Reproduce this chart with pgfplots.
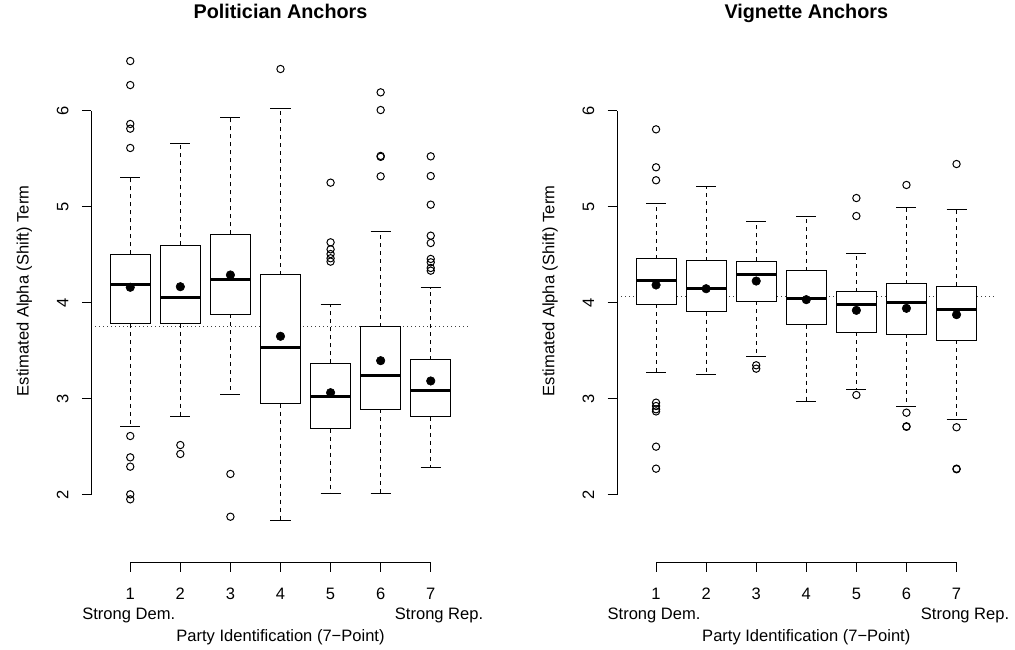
\documentclass[border=0pt]{standalone}
\usepackage{pgfplots}
\pgfplotsset{compat=1.18}
\usepgfplotslibrary{statistics}
\usepackage{fontspec}
\setmainfont{Liberation Sans}
\newcommand{\rfont}{\fontsize{12.4}{14}\selectfont}
\pgfplotsset{
  rpanel/.style={
    scale only axis, width=283.95pt, height=399.225pt,
    anchor=south west,
    xmin=0.22, xmax=7.78, ymin=1.2995, ymax=6.840,
    axis x line*=bottom, axis y line*=left, axis line style={draw=none},
    tick align=outside, major tick length=7.05pt,
    tick style={black, line width=0.75pt},
    xtick={1,2,3,4,5,6,7}, ytick={2,3,4,5,6},
    xticklabels={1,2,3,4,5,6,7}, yticklabels={2,3,4,5,6},
    /pgf/number format/assume math mode=true,
    clip=false,
    tick label style={font=\rfont},
    xticklabel style={anchor=base, yshift=-20.7pt},
    yticklabel style={xshift=-10.1pt, rotate=90, anchor=base},
    label style={font=\rfont},
    xlabel style={at={(axis description cs:0.5,-0.1492)}, anchor=base},
    ylabel style={at={(axis description cs:-0.1656,0.510)}, rotate=0, anchor=base},
    title style={at={(axis description cs:0.5,1.0062)}, anchor=base, font=\bfseries\fontsize{14.85}{17}\selectfont},
    xlabel={Party Identification (7\textminus Point)},
    ylabel={Estimated Alpha (Shift) Term},
    boxplot/draw direction=y,
    boxplot/box extend=0.8,
    boxplot/draw/box/.code={%
      \draw[black, line width=0.75pt, fill=white]
        (boxplot box cs:\pgfplotsboxplotvalue{lower quartile},0) rectangle
        (boxplot box cs:\pgfplotsboxplotvalue{upper quartile},1);},
    boxplot/draw/median/.code={%
      \draw[black, line width=2.25pt]
        (boxplot box cs:\pgfplotsboxplotvalue{median},0) --
        (boxplot box cs:\pgfplotsboxplotvalue{median},1);},
    boxplot/draw/lower whisker/.code={%
      \draw[black, line width=0.75pt, dash pattern=on 3pt off 3pt]
        (boxplot box cs:\pgfplotsboxplotvalue{lower quartile},0.5) --
        (boxplot box cs:\pgfplotsboxplotvalue{lower whisker},0.5);
      \draw[black, line width=0.75pt]
        (boxplot box cs:\pgfplotsboxplotvalue{lower whisker},0.25) --
        (boxplot box cs:\pgfplotsboxplotvalue{lower whisker},0.75);},
    boxplot/draw/upper whisker/.code={%
      \draw[black, line width=0.75pt, dash pattern=on 3pt off 3pt]
        (boxplot box cs:\pgfplotsboxplotvalue{upper quartile},0.5) --
        (boxplot box cs:\pgfplotsboxplotvalue{upper whisker},0.5);
      \draw[black, line width=0.75pt]
        (boxplot box cs:\pgfplotsboxplotvalue{upper whisker},0.25) --
        (boxplot box cs:\pgfplotsboxplotvalue{upper whisker},0.75);},
  },
  outl/.style={only marks, mark=o, mark size=2.75pt, black, line width=0.75pt},
  meanpt/.style={only marks, mark=*, mark size=3.2pt, black},
  refline/.style={black!75, line width=0.75pt, dash pattern=on 0.75pt off 2.25pt},
}
\begin{document}
\rfont
\begin{tikzpicture}
\path[use as bounding box] (0,0) rectangle (761.25pt,487.5pt);
% ---------------- Politician Anchors ----------------
\begin{axis}[rpanel, at={(68.4pt,65.775pt)}, title={Politician Anchors}]
\addplot[refline] coordinates {(0.22,3.759) (7.78,3.759)};
\addplot[boxplot prepared={draw position=1, lower whisker=2.711, lower quartile=3.780, median=4.189, upper quartile=4.505, upper whisker=5.303}] coordinates {};
\addplot[boxplot prepared={draw position=2, lower whisker=2.812, lower quartile=3.783, median=4.054, upper quartile=4.602, upper whisker=5.660}] coordinates {};
\addplot[boxplot prepared={draw position=3, lower whisker=3.041, lower quartile=3.881, median=4.245, upper quartile=4.713, upper whisker=5.927}] coordinates {};
\addplot[boxplot prepared={draw position=4, lower whisker=1.733, lower quartile=2.950, median=3.537, upper quartile=4.290, upper whisker=6.021}] coordinates {};
\addplot[boxplot prepared={draw position=5, lower whisker=2.014, lower quartile=2.690, median=3.023, upper quartile=3.371, upper whisker=3.988}] coordinates {};
\addplot[boxplot prepared={draw position=6, lower whisker=2.014, lower quartile=2.895, median=3.239, upper quartile=3.752, upper whisker=4.741}] coordinates {};
\addplot[boxplot prepared={draw position=7, lower whisker=2.284, lower quartile=2.812, median=3.086, upper quartile=3.408, upper whisker=4.158}] coordinates {};
\addplot[outl] coordinates {
 (1,6.517) (1,6.267) (1,5.862) (1,5.813) (1,5.612) (1,2.614) (1,2.392) (1,2.295) (1,2.007) (1,1.955)
 (2,2.520) (2,2.427)
 (3,2.219) (3,1.774)
 (4,6.434)
 (5,5.251) (5,4.630) (5,4.557) (5,4.508) (5,4.464) (5,4.429)
 (6,6.191) (6,6.007) (6,5.529) (6,5.520) (6,5.317)
 (7,5.525) (7,5.320) (7,5.022) (7,4.699) (7,4.623) (7,4.457) (7,4.422) (7,4.363) (7,4.335)};
\addplot[meanpt] coordinates {(1,4.162) (2,4.168) (3,4.290) (4,3.652) (5,3.065) (6,3.398) (7,3.187)};
\draw[black, line width=0.75pt] (axis cs:0.22,2) -- (axis cs:0.22,6);
\draw[black, line width=0.75pt] (axis cs:1,1.2995) -- (axis cs:7,1.2995);
\node[anchor=base, font=\rfont] at (axis cs:0.97,0.704) {Strong Dem.};
\node[anchor=base, font=\rfont] at (axis cs:7.166,0.704) {Strong Rep.};
\end{axis}
% ---------------- Vignette Anchors ----------------
\begin{axis}[rpanel, at={(462.75pt,65.775pt)}, title={Vignette Anchors}]
\addplot[refline] coordinates {(0.22,4.064) (7.78,4.064)};
\addplot[boxplot prepared={draw position=1, lower whisker=3.280, lower quartile=3.985, median=4.231, upper quartile=4.460, upper whisker=5.039}] coordinates {};
\addplot[boxplot prepared={draw position=2, lower whisker=3.259, lower quartile=3.908, median=4.147, upper quartile=4.439, upper whisker=5.209}] coordinates {};
\addplot[boxplot prepared={draw position=3, lower whisker=3.440, lower quartile=4.019, median=4.290, upper quartile=4.432, upper whisker=4.845}] coordinates {};
\addplot[boxplot prepared={draw position=4, lower whisker=2.968, lower quartile=3.773, median=4.043, upper quartile=4.335, upper whisker=4.897}] coordinates {};
\addplot[boxplot prepared={draw position=5, lower whisker=3.096, lower quartile=3.693, median=3.981, upper quartile=4.116, upper whisker=4.516}] coordinates {};
\addplot[boxplot prepared={draw position=6, lower whisker=2.916, lower quartile=3.673, median=4.006, upper quartile=4.199, upper whisker=4.994}] coordinates {};
\addplot[boxplot prepared={draw position=7, lower whisker=2.784, lower quartile=3.610, median=3.933, upper quartile=4.175, upper whisker=4.970}] coordinates {};
\addplot[outl] coordinates {
 (1,5.806) (1,5.411) (1,5.276) (1,2.961) (1,2.926) (1,2.892) (1,2.870) (1,2.503) (1,2.274)
 (3,3.350) (3,3.315)
 (5,5.091) (5,4.904) (5,3.041)
 (6,5.227) (6,2.857) (6,2.715) (6,2.710)
 (7,5.445) (7,2.705) (7,2.274) (7,2.268)};
\addplot[meanpt] coordinates {(1,4.186) (2,4.147) (3,4.227) (4,4.033) (5,3.922) (6,3.943) (7,3.877)};
\draw[black, line width=0.75pt] (axis cs:0.22,2) -- (axis cs:0.22,6);
\draw[black, line width=0.75pt] (axis cs:1,1.2995) -- (axis cs:7,1.2995);
\node[anchor=base, font=\rfont] at (axis cs:0.96,0.704) {Strong Dem.};
\node[anchor=base, font=\rfont] at (axis cs:7.17,0.704) {Strong Rep.};
\end{axis}
\end{tikzpicture}
\end{document}
